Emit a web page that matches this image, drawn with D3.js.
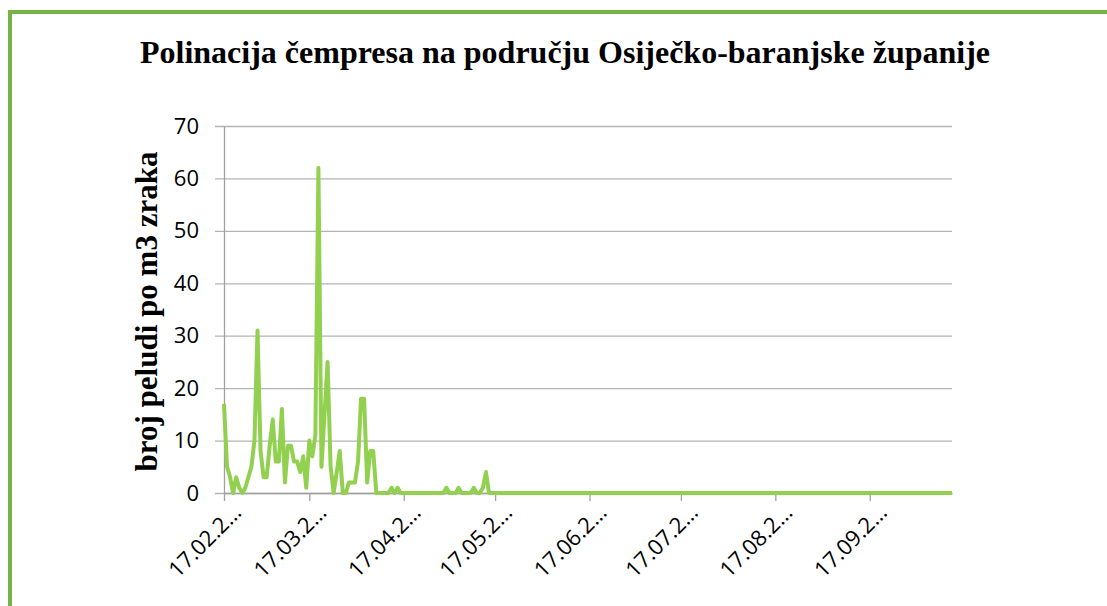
<!DOCTYPE html>
<html>
<head>
<meta charset="utf-8">
<script src="https://cdn.jsdelivr.net/npm/d3@7"></script>
<style>
  body { margin: 0; background: #fff; }
  svg { display: block; }
</style>
</head>
<body>
<div id="chart-area"></div>
<script>
// daily pollen counts, starting 17.02.
var startDate = "2013-02-17";
var values = [
  17, 5, 3, 0, 3, 1, 0, 1, 3, 5,
  10, 31, 8, 3, 3, 9, 14, 6, 6, 16,
  2, 9, 9, 6, 6, 4, 7, 1, 10, 7,
  11, 62, 5, 15, 25, 5, 0, 4, 8, 0,
  0, 2, 2, 2, 6, 18, 18, 2, 8, 8,
  0, 0, 0, 0, 0, 1, 0, 1, 0, 0,
  0, 0, 0, 0, 0, 0, 0, 0, 0, 0,
  0, 0, 0, 1, 0, 0, 0, 1, 0, 0,
  0, 0, 1, 0, 0, 1, 4, 0, 0, 0,
  0, 0, 0, 0, 0, 0, 0, 0, 0, 0,
  0, 0, 0, 0, 0, 0, 0, 0, 0, 0,
  0, 0, 0, 0, 0, 0, 0, 0, 0, 0,
  0, 0, 0, 0, 0, 0, 0, 0, 0, 0,
  0, 0, 0, 0, 0, 0, 0, 0, 0, 0,
  0, 0, 0, 0, 0, 0, 0, 0, 0, 0,
  0, 0, 0, 0, 0, 0, 0, 0, 0, 0,
  0, 0, 0, 0, 0, 0, 0, 0, 0, 0,
  0, 0, 0, 0, 0, 0, 0, 0, 0, 0,
  0, 0, 0, 0, 0, 0, 0, 0, 0, 0,
  0, 0, 0, 0, 0, 0, 0, 0, 0, 0,
  0, 0, 0, 0, 0, 0, 0, 0, 0, 0,
  0, 0, 0, 0, 0, 0, 0, 0, 0, 0,
  0, 0, 0, 0, 0, 0, 0, 0, 0, 0,
  0, 0, 0, 0, 0, 0, 0, 0, 0, 0
];
var tickDates = ["2013-02-17", "2013-03-17", "2013-04-17", "2013-05-17",
                 "2013-06-17", "2013-07-17", "2013-08-17", "2013-09-17"];
var tickLabels = ["17.02.2…", "17.03.2…", "17.04.2…", "17.05.2…",
                  "17.06.2…", "17.07.2…", "17.08.2…", "17.09.2…"];
var yTicks = [0, 10, 20, 30, 40, 50, 60, 70];

var title = "Polinacija čempresa na području Osiječko-baranjske županije";
var yTitle = "broj peludi po m3 zraka";

var W = 1107, H = 606;
var margin = {top: 126, left: 224, bottom: 113, right: 155};
var width = W - margin.left - margin.right;
var height = H - margin.top - margin.bottom;

var parse = d3.utcParse("%Y-%m-%d");
var t0 = parse(startDate);
var data = values.map(function(v, i){
  return {date: d3.utcDay.offset(t0, i), value: v};
});

var svg = d3.select("#chart-area")
  .append("svg")
    .attr("width", W)
    .attr("height", H);

// outer green frame
svg.append("rect")
  .attr("x", 10)
  .attr("y", 12)
  .attr("width", W + 50)
  .attr("height", H + 50)
  .attr("fill", "none")
  .attr("stroke", "#77b244")
  .attr("stroke-width", 4);

svg.append("text")
  .attr("x", 565)
  .attr("y", 63)
  .attr("text-anchor", "middle")
  .attr("font-family", "'Liberation Serif', 'Times New Roman', serif")
  .attr("font-weight", "bold")
  .attr("font-size", "32px")
  .text(title);

var g = svg.append("g")
  .attr("transform", "translate(" + margin.left + "," + margin.top + ")");

var x = d3.scaleUtc()
  .domain([t0, data[data.length - 1].date])
  .range([0, width]);

var y = d3.scaleLinear()
  .domain([0, 70])
  .range([height, 0]);

// gridlines
g.append("g")
  .attr("class", "grid")
  .call(d3.axisLeft(y).tickValues(yTicks).tickSize(-width - 9).tickFormat(""))
  .attr("transform", "translate(-9,0)")
  .call(function(s){
    s.select(".domain").remove();
    s.selectAll("line").attr("stroke", "#b4b4b4").attr("stroke-width", 1.3);
  });

// y axis
g.append("g")
  .call(d3.axisLeft(y).tickValues(yTicks).tickSize(0).tickSizeOuter(0).tickPadding(25))
  .call(function(s){
    s.select(".domain").attr("stroke", "#a0a0a0").attr("stroke-width", 1.3);
    s.selectAll("text")
      .attr("font-family", "'Open Sans', sans-serif")
      .attr("font-size", "22px")
      .attr("fill", "#000");
  });

// x axis
g.append("g")
  .attr("transform", "translate(0," + height + ")")
  .call(d3.axisBottom(x)
    .tickValues(tickDates.map(parse))
    .tickSize(8)
    .tickSizeOuter(0)
    .tickFormat(function(d, i){ return tickLabels[i]; }))
  .call(function(s){
    s.select(".domain").attr("stroke", "#a0a0a0").attr("stroke-width", 1.3);
    s.selectAll("line").attr("stroke", "#a0a0a0").attr("stroke-width", 1.3);
    s.selectAll("text")
      .attr("font-family", "'Open Sans', sans-serif")
      .attr("font-size", "22px")
      .attr("fill", "#000")
      .attr("text-anchor", "end")
      .attr("dy", null)
      .attr("y", 0)
      .attr("transform", "translate(18,21) rotate(-45)");
  });

// y title
g.append("text")
  .attr("transform", "translate(-67," + (height / 2 + 2) + ") rotate(-90)")
  .attr("text-anchor", "middle")
  .attr("font-family", "'Liberation Serif', 'Times New Roman', serif")
  .attr("font-weight", "bold")
  .attr("font-size", "31px")
  .text(yTitle);

var line = d3.line()
  .x(function(d){ return x(d.date); })
  .y(function(d){ return y(d.value); });

g.append("path")
  .datum(data)
  .attr("fill", "none")
  .attr("stroke", "#92d050")
  .attr("stroke-width", 4)
  .attr("stroke-linejoin", "round")
  .attr("d", line);
</script>
</body>
</html>
